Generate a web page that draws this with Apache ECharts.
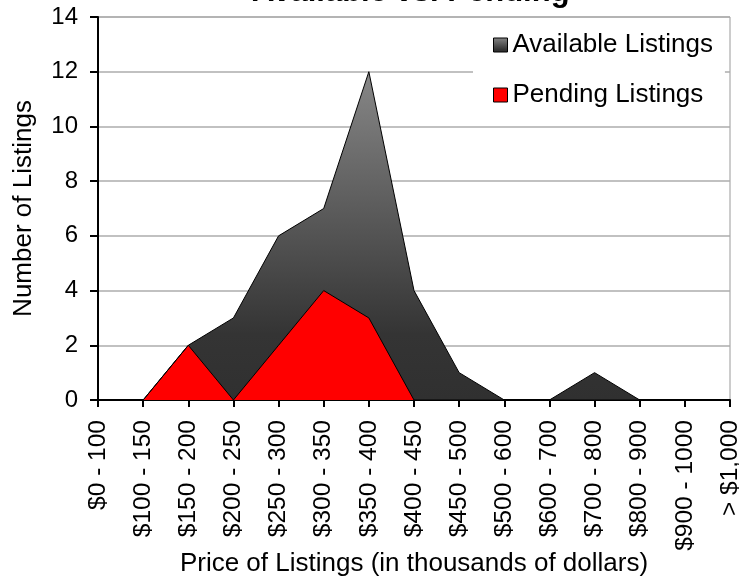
<!DOCTYPE html>
<html>
<head>
<meta charset="utf-8">
<script src="https://cdn.jsdelivr.net/npm/echarts@6/dist/echarts.min.js"></script>
<style>
    html, body {margin: 0; padding: 0; background: #fff;}
    #container {width: 739px; height: 581px;}
</style>
</head>
<body>
<div id="container"></div>
<script>
var price_ranges = ['$0 - 100', '$100 - 150', '$150 - 200', '$200 - 250', '$250 - 300', '$300 - 350',
    '$350 - 400', '$400 - 450', '$450 - 500', '$500 - 600', '$600 - 700', '$700 - 800',
    '$800 - 900', '$900 - 1000', '> $1,000'];
var available_listings = [0, 0, 2, 3, 6, 7, 12, 4, 1, 0, 0, 1, 0, 0, 0];
var pending_listings = [0, 0, 2, 0, 2, 4, 3, 0, 0, 0, 0, 0, 0, 0, 0];
var y_ticks = [0, 2, 4, 6, 8, 10, 12, 14];

var font = 'Liberation Sans, Arial, sans-serif';
var gray_fill = new echarts.graphic.LinearGradient(0, 0, 0, 1, [
    {offset: 0, color: '#878787'},
    {offset: 0.8, color: '#343434'},
    {offset: 1, color: '#303030'}
]);

draw_chart();

function draw_chart() {
    var dom = document.getElementById("container");
    var myChart = echarts.init(dom);
    var option = {
        animation: false,
        title: {
            text: 'Available vs. Pending',
            left: 247,
            top: -28,
            textStyle: {fontFamily: font, fontSize: 31, fontWeight: 'bold', color: '#000'}
        },
        legend: {
            orient: 'vertical',
            left: 473,
            top: 21,
            padding: [11, 12, 12, 20],
            backgroundColor: '#fff',
            icon: 'rect',
            itemWidth: 14,
            itemHeight: 14,
            itemGap: 24,
            textStyle: {fontFamily: font, fontSize: 26, color: '#000', lineHeight: 26},
            data: [
                {name: 'Available Listings', itemStyle: {color: gray_fill, borderColor: '#000', borderWidth: 1}},
                {name: 'Pending Listings', itemStyle: {color: '#ff0000', borderColor: '#000', borderWidth: 1}}
            ]
        },
        grid: {
            left: 98,
            right: 9,
            top: 17,
            bottom: 181,
            outerBoundsMode: 'none',
            show: true,
            borderColor: '#999',
            borderWidth: 1
        },
        xAxis: {
            type: 'category',
            data: price_ranges,
            boundaryGap: false,
            name: 'Price of Listings (in thousands of dollars)',
            nameLocation: 'middle',
            nameGap: 151,
            nameMoveOverlap: false,
            nameTextStyle: {fontFamily: font, fontSize: 26, color: '#000'},
            axisLine: {lineStyle: {color: '#000', width: 2}},
            axisTick: {length: 7, lineStyle: {color: '#000', width: 2}},
            axisLabel: {
                rotate: 90,
                interval: 0,
                margin: 20,
                fontFamily: font,
                fontSize: 24.5,
                color: '#000'
            },
            splitLine: {show: false}
        },
        yAxis: {
            type: 'value',
            min: y_ticks[0],
            max: y_ticks[y_ticks.length - 1],
            interval: y_ticks[1] - y_ticks[0],
            name: 'Number of Listings',
            nameLocation: 'middle',
            nameGap: 61,
            nameMoveOverlap: false,
            nameTextStyle: {fontFamily: font, fontSize: 26, color: '#000'},
            axisLine: {show: true, lineStyle: {color: '#000', width: 2}},
            axisTick: {show: true, length: 8, lineStyle: {color: '#000', width: 2}},
            axisLabel: {margin: 20, fontFamily: font, fontSize: 24, color: '#000'},
            splitLine: {lineStyle: {color: '#adadad', width: 1.5}}
        },
        series: [
            {
                name: 'Available Listings',
                type: 'line',
                data: available_listings,
                symbol: 'none',
                itemStyle: {color: gray_fill},
                lineStyle: {color: '#000', width: 1},
                areaStyle: {color: gray_fill, opacity: 1}
            },
            {
                name: 'Pending Listings',
                type: 'line',
                data: pending_listings,
                symbol: 'none',
                itemStyle: {color: '#ff0000'},
                lineStyle: {color: '#000', width: 1},
                areaStyle: {color: '#ff0000', opacity: 1}
            }
        ]
    };
    if (option && typeof option === "object") {
        myChart.setOption(option, true);
    }
}
</script>
</body>
</html>
